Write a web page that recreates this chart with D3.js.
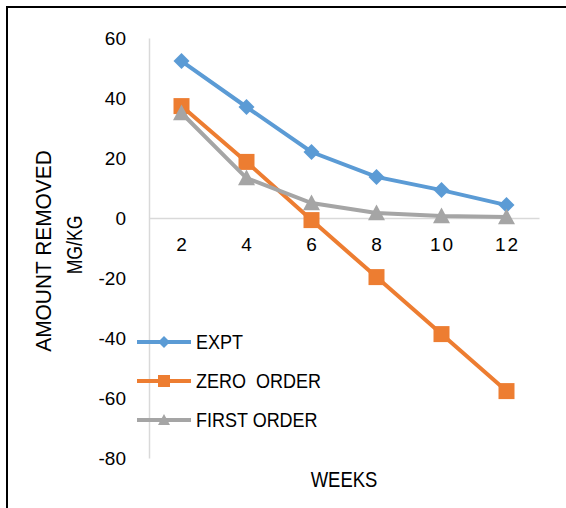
<!DOCTYPE html>
<head>
	<meta charset="utf-8" />
	<style>
		body {
			margin: 0;
			background: #fff;
		}
		svg {
			display: block;
		}
		.tick text {
			font-family: 'Liberation Sans', Arial, sans-serif;
			font-size: 19px;
			fill: #000;
		}
		.lbl {
			font-family: 'Liberation Sans', Arial, sans-serif;
			fill: #000;
		}
	</style>
</head>
<body>
	<div id="chart-area"></div>
	<script src="https://cdnjs.cloudflare.com/ajax/libs/d3/7.8.5/d3.min.js"></script>
	<script>
		var weeks = ['2', '4', '6', '8', '10', '12'];
		var expt = [52.3, 37, 22, 13.7, 9.3, 4.3];
		var zeroOrder = [37.3, 18.7, -0.7, -19.7, -38.7, -57.7];
		var firstOrder = [35, 13.3, 5, 1.7, 0.7, 0.3];
		var yTicks = [60, 40, 20, 0, -20, -40, -60, -80];

		var series = [
			{ name: 'EXPT', values: expt, color: '#5b9bd5', shape: 'diamond' },
			{ name: 'ZERO\u00a0\u00a0ORDER', values: zeroOrder, color: '#ed7d31', shape: 'square' },
			{ name: 'FIRST ORDER', values: firstOrder, color: '#a5a5a5', shape: 'triangle' },
		];

		var W = 566,
			H = 508;
		var svg = d3
			.select('#chart-area')
			.append('svg')
			.attr('width', W)
			.attr('height', H);

		// outer frame (right/bottom edges fall outside the picture)
		svg.append('rect')
			.attr('x', 7)
			.attr('y', 7)
			.attr('width', W + 20)
			.attr('height', H + 20)
			.attr('fill', 'none')
			.attr('stroke', '#000')
			.attr('stroke-width', 2);

		var x = d3.scaleBand().domain(weeks).range([149, 539]);
		var y = d3.scaleLinear().domain([-80, 60]).range([458, 38]);

		// y axis
		var ya = svg
			.append('g')
			.attr('transform', 'translate(149,0)')
			.call(
				d3.axisLeft(y)
					.tickValues(yTicks)
					.tickFormat(d => String(d))
					.tickSize(0)
					.tickPadding(23)
			);
		ya.select('.domain').attr('stroke', '#d9d9d9').attr('stroke-width', 1.5);
		ya.selectAll('.tick text').attr('dy', '0.34em');

		// x axis at zero
		var xa = svg
			.append('g')
			.attr('transform', 'translate(0,' + y(0) + ')')
			.call(d3.axisBottom(x).tickSize(0).tickPadding(20));
		xa.select('.domain').attr('stroke', '#d9d9d9').attr('stroke-width', 1.5);
		xa.selectAll('.tick text')
			.attr('dy', '0.71em')
			.attr('dx', '1px')
			.style('letter-spacing', '2px');

		var symbols = {
			diamond: function (s) {
				return 'M0,' + -s + 'L' + s + ',0L0,' + s + 'L' + -s + ',0Z';
			},
			square: function (s) {
				return 'M' + -s + ',' + -s + 'H' + s + 'V' + s + 'H' + -s + 'Z';
			},
			triangle: function (s) {
				return 'M0,' + -s + 'L' + s + ',' + s * 0.85 + 'H' + -s + 'Z';
			},
		};
		var sizes = { diamond: 8, square: 8, triangle: 8.5 };

		var line = d3
			.line()
			.x((d, i) => x(weeks[i]) + x.bandwidth() / 2)
			.y(d => y(d));

		series.forEach(s => {
			var g = svg.append('g');
			g.append('path')
				.attr('d', line(s.values))
				.attr('fill', 'none')
				.attr('stroke', s.color)
				.attr('stroke-width', 4);
			g.selectAll('path.m')
				.data(s.values)
				.join('path')
				.attr('class', 'm')
				.attr('transform', (d, i) => 'translate(' + (x(weeks[i]) + x.bandwidth() / 2) + ',' + y(d) + ')')
				.attr('d', symbols[s.shape](sizes[s.shape]))
				.attr('fill', s.color);
		});

		// label helper: narrow-ish text (the original used a condensed font)
		function label(txt, tx, ty, size, sx, rot, anchor) {
			return svg.append('text')
				.attr('class', 'lbl')
				.attr('text-anchor', anchor || 'middle')
				.style('font-size', size + 'px')
				.attr('transform', 'translate(' + tx + ',' + ty + ')' + (rot ? ' rotate(-90)' : '') + ' scale(' + sx + ',1)')
				.attr('dy', '0.36em')
				.text(txt);
		}

		// legend
		series.forEach((s, i) => {
			var ly = 342 + i * 39;
			svg.append('line')
				.attr('x1', 137)
				.attr('x2', 191)
				.attr('y1', ly)
				.attr('y2', ly)
				.attr('stroke', s.color)
				.attr('stroke-width', 4);
			svg.append('path')
				.attr('transform', 'translate(164,' + ly + ')')
				.attr('d', symbols[s.shape](6))
				.attr('fill', s.color);
			label(s.name, 196, ly, 20, 0.9, false, 'start');
		});

		// axis titles
		label('WEEKS', 344, 479, 22, 0.84, false);
		label('AMOUNT REMOVED', 43, 251, 22, 0.95, true);
		label('MG/KG', 74, 245, 22, 0.8, true);
	</script>
</body>
